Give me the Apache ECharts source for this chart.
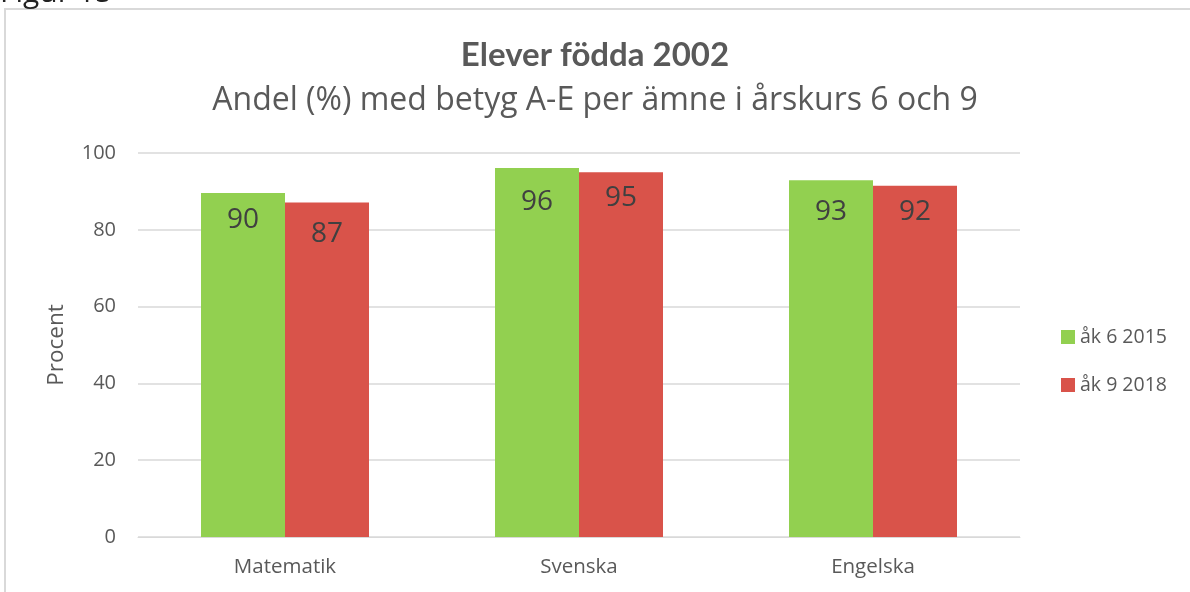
<!DOCTYPE html>
<html><head><meta charset="utf-8">
<script src="https://cdn.jsdelivr.net/npm/echarts@6/dist/echarts.min.js"></script>
<style>html,body{margin:0;padding:0;background:#fff}#c{width:1190px;height:592px}</style>
</head><body><div id="c"></div>
<script>
const categories = ['Matematik', 'Svenska', 'Engelska'];
const seriesNames = ['åk 6 2015', 'åk 9 2018'];
const ak6_2015 = [89.6, 96.1, 92.9];
const ak9_2018 = [87.1, 95.0, 91.5];
const yTicks = [0, 20, 40, 60, 80, 100];

// label vertical nudges (pixels), styling only
const nudge6 = [2, 9, 7];
const nudge9 = [6, 1, 1];

const chart = echarts.init(document.getElementById('c'));
const font = 'Open Sans, DejaVu Sans, sans-serif';
const labelCfg = {
  show: true, position: 'insideTop', distance: 11,
  fontSize: 28, color: '#404040', fontFamily: font,
  formatter: p => Math.round(p.value)
};
const withNudge = (vals, nudges) => vals.map((v, i) => ({ value: v, label: { offset: [0, nudges[i]] } }));
chart.setOption({
  animation: false,
  graphic: [
    { type: 'rect', shape: { x: 5, y: 9, width: 1300, height: 700 }, style: { fill: 'none', stroke: '#d9d9d9', lineWidth: 2 } },
    { type: 'text', left: 0, top: -22, style: { text: 'Figur 15', fontSize: 30, fill: '#222', fontFamily: font } }
  ],
  title: [
    { text: 'Elever födda 2002', left: 'center', top: 34, textStyle: { fontSize: 33, fontWeight: 'bold', color: '#595959', fontFamily: 'Lato, Open Sans, sans-serif' } },
    { text: 'Andel (%) med betyg A-E per ämne i årskurs 6 och 9', left: 'center', top: 80, textStyle: { fontSize: 32, fontWeight: 'normal', color: '#595959', fontFamily: font } }
  ],
  legend: {
    orient: 'vertical', left: 1056, top: 322, itemGap: 28, itemWidth: 14, itemHeight: 14,
    icon: 'rect',
    textStyle: { fontSize: 19.5, color: '#595959', fontFamily: font },
    data: seriesNames
  },
  grid: { left: 138, right: 170, top: 153, bottom: 55, containLabel: false },
  xAxis: {
    type: 'category', data: categories,
    axisLine: { show: true, lineStyle: { color: '#d9d9d9' } },
    axisTick: { show: false },
    axisLabel: { fontSize: 20.5, color: '#595959', margin: 20, fontFamily: font }
  },
  yAxis: {
    type: 'value', min: yTicks[0], max: yTicks[yTicks.length - 1], interval: 20,
    name: 'Procent', nameLocation: 'middle', nameGap: 70, nameRotate: 90,
    nameTextStyle: { fontSize: 22.5, color: '#595959', fontFamily: font },
    axisLine: { show: false }, axisTick: { show: false },
    splitLine: { lineStyle: { color: '#d9d9d9', width: 1.5 } },
    axisLabel: { fontSize: 20, color: '#595959', margin: 22, fontFamily: font }
  },
  series: [
    { name: seriesNames[0], type: 'bar', data: withNudge(ak6_2015, nudge6), barWidth: 84, barGap: '0%', itemStyle: { color: '#92d050' }, label: labelCfg },
    { name: seriesNames[1], type: 'bar', data: withNudge(ak9_2018, nudge9), barWidth: 84, barGap: '0%', itemStyle: { color: '#d9534a' }, label: labelCfg }
  ]
});
</script></body></html>
